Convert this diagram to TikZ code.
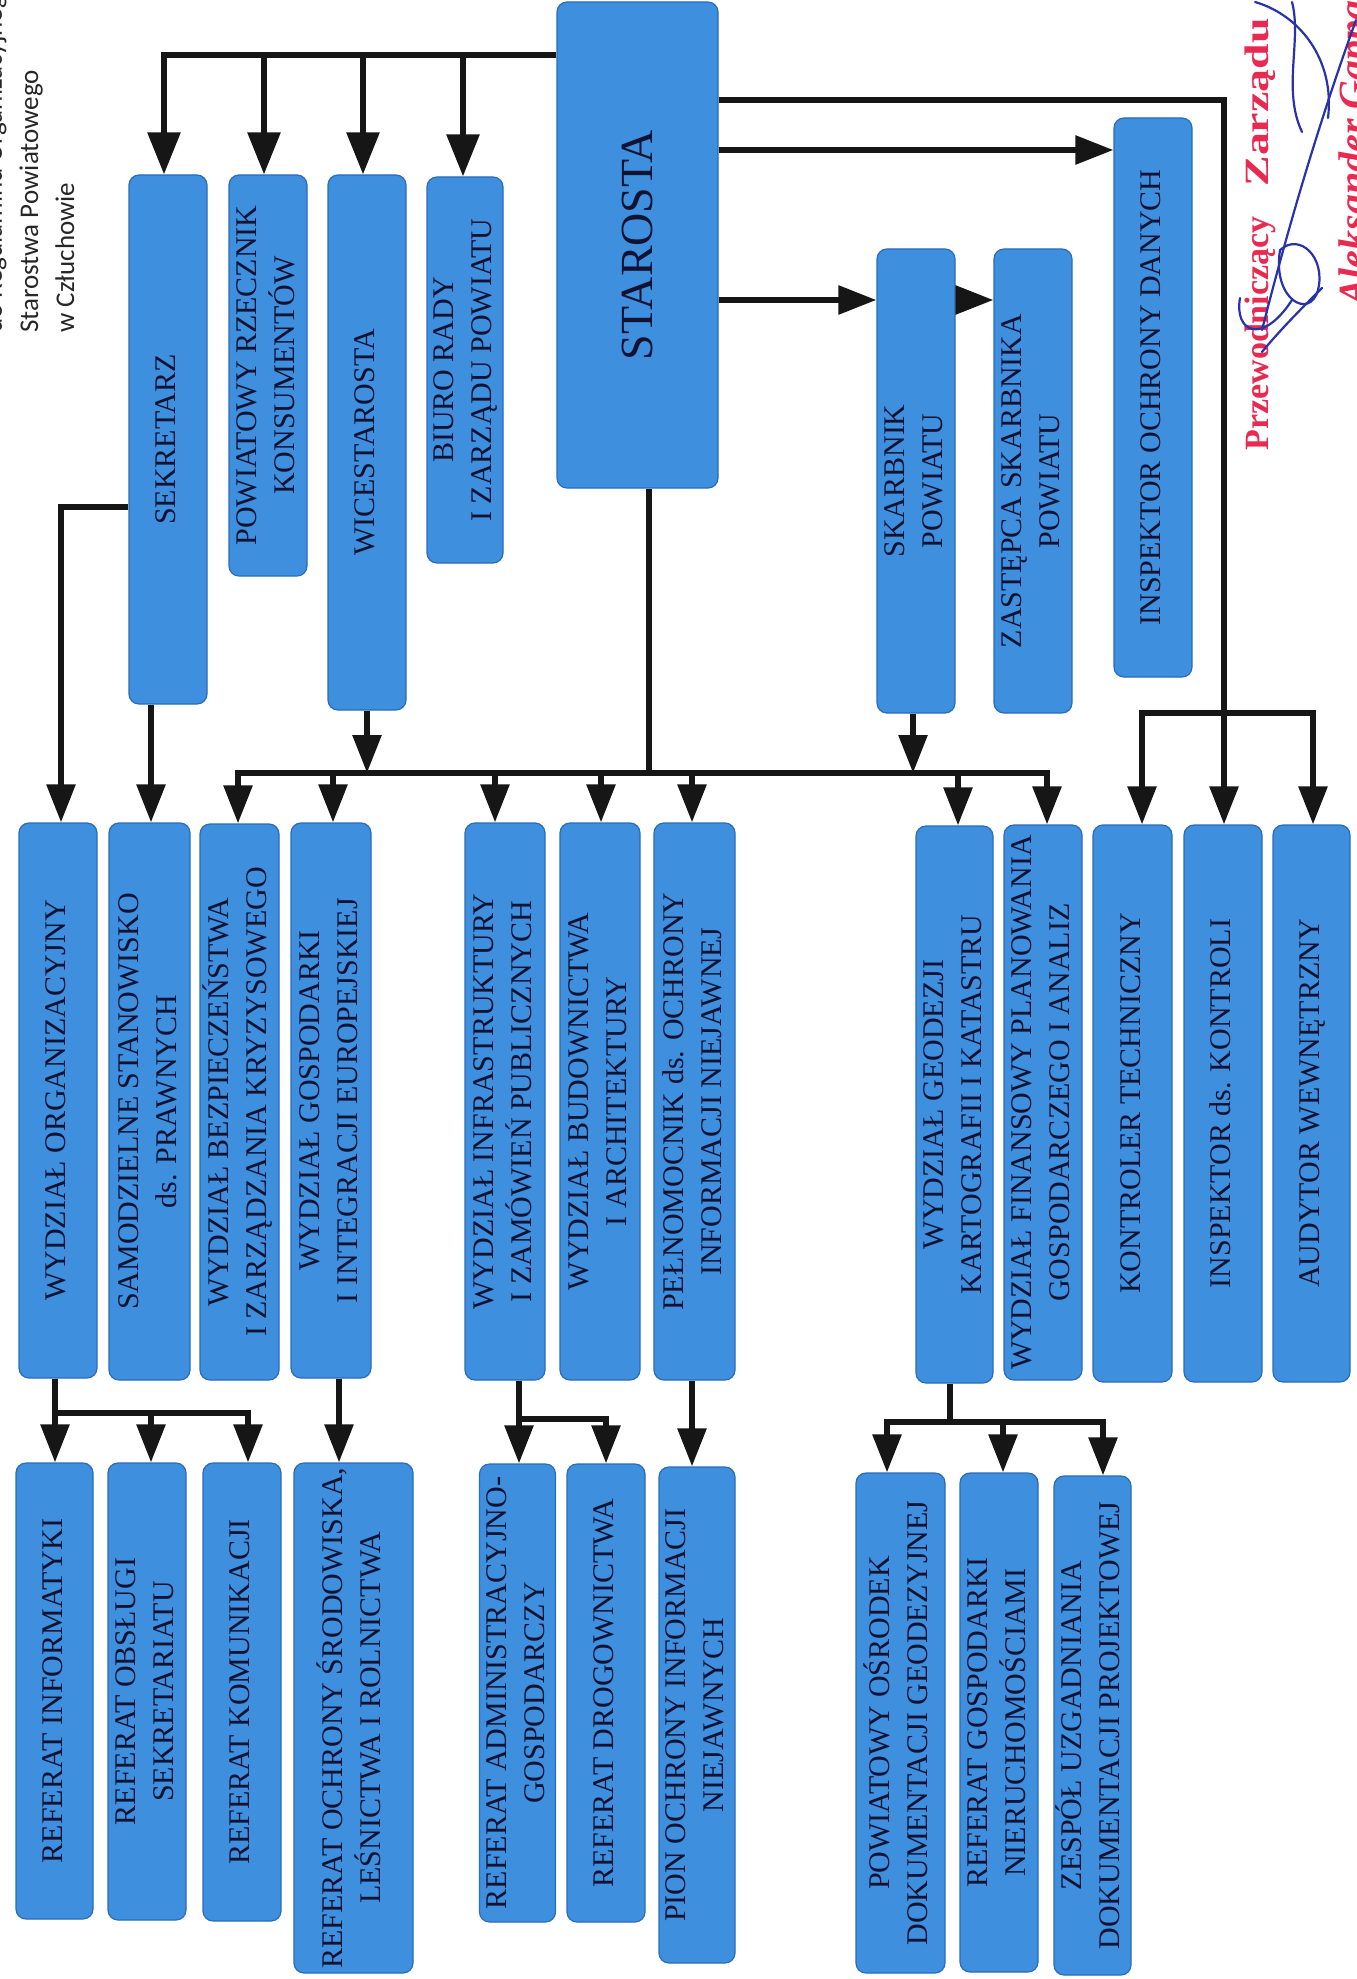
\documentclass[tikz,border=0pt]{standalone}
\usepackage{fontspec}
\setmainfont{Liberation Serif}
\newfontfamily\hdrfont{Carlito}
\usetikzlibrary{arrows.meta}
\definecolor{boxfill}{RGB}{62,143,222}
\definecolor{boxline}{RGB}{42,108,186}
\definecolor{boxtext}{RGB}{18,18,50}
\definecolor{stampred}{RGB}{232,42,80}
\definecolor{sigblue}{RGB}{40,50,170}
\definecolor{conblack}{RGB}{22,22,22}
\tikzset{
  tri/.tip={Triangle[length=19pt,width=14pt]},
  bigtri/.tip={Triangle[length=21pt,width=16pt]},
  ob/.style={draw=boxline, fill=boxfill, rounded corners=5pt, line width=0.6pt,
    inner sep=0pt, text=boxtext, font=\fontsize{15}{19}\selectfont},
  con/.style={draw=conblack, line width=2.9pt},
  arr/.style={con, -tri},
  arrbig/.style={con, -bigtri},
  arrtwo/.style={con, tri-tri},
  hdr/.style={inner sep=0pt, font=\hdrfont\fontsize{13.5}{16}\selectfont, text=black!85},
  stamp/.style={inner sep=0pt, text=stampred, font=\bfseries\fontsize{17}{20}\selectfont},
  sig/.style={draw=sigblue, line width=1.1pt, line cap=round}
}
\newcommand\obox[6]{%
  \node[ob, minimum width={(#3-#2)*0.5pt}, minimum height={(#5-#4)*0.5pt}]
    (#1) at ({(#2+#3)/2},{(#4+#5)/2})
    {\rotatebox{90}{\begin{tabular}{@{}c@{}}#6\end{tabular}}};}
\begin{document}
\begin{tikzpicture}[x=0.5pt,y=-0.5pt]
\useasboundingbox (0,0) rectangle (1356,1979);

% header
\node[hdr, rotate=90, anchor=base west] (h1) at (2,333) {do Regulaminu Organizacyjnego};
\node[hdr, rotate=90, anchor=base west] (h2) at (38,333) {Starostwa Powiatowego};
\node[hdr, rotate=90, anchor=base west] (h3) at (74,333) {w Człuchowie};

% top row
\obox{sek}{129}{207}{175}{704}{SEKRETARZ}
\obox{rzecz}{229}{307}{175}{576}{POWIATOWY RZECZNIK\\KONSUMENTÓW}
\obox{wice}{328}{406}{175}{710}{WICESTAROSTA}
\obox{biuro}{428}{502}{177}{563}{BIURO RADY\\I ZARZĄDU POWIATU}
\node[ob, font=\fontsize{23}{27}\selectfont, minimum width={161*0.5pt}, minimum height={486*0.5pt}]
  (starosta) at (637.5,245) {\rotatebox{90}{STAROSTA}};
\obox{skarb}{877}{955}{249}{713}{SKARBNIK\\POWIATU}
\obox{zast}{994}{1072}{249}{713}{ZASTĘPCA SKARBNIKA\\POWIATU}
\obox{iod}{1114}{1192}{118}{677}{INSPEKTOR OCHRONY DANYCH}

% middle row
\obox{wo}{19}{97}{823}{1378}{WYDZIAŁ ORGANIZACYJNY}
\obox{samodz}{109}{190}{823}{1380}{SAMODZIELNE STANOWISKO\\ds. PRAWNYCH}
\obox{bezp}{200}{279}{824}{1380}{WYDZIAŁ BEZPIECZEŃSTWA\\I ZARZĄDZANIA KRYZYSOWEGO}
\obox{gosp}{291}{371}{823}{1378}{WYDZIAŁ GOSPODARKI\\I INTEGRACJI EUROPEJSKIEJ}
\obox{infra}{465}{545}{823}{1380}{WYDZIAŁ INFRASTRUKTURY\\I ZAMÓWIEŃ PUBLICZNYCH}
\obox{bud}{560}{640}{823}{1380}{WYDZIAŁ BUDOWNICTWA\\I ARCHITEKTURY}
\obox{peln}{654}{735}{823}{1380}{PEŁNOMOCNIK ds. OCHRONY\\INFORMACJI NIEJAWNEJ}
\obox{geod}{916}{993}{826}{1383}{WYDZIAŁ GEODEZJI\\KARTOGRAFII I KATASTRU}
\obox{fin}{1004}{1082}{825}{1380}{WYDZIAŁ FINANSOWY PLANOWANIA\\GOSPODARCZEGO I ANALIZ}
\obox{kontr}{1093}{1172}{825}{1382}{KONTROLER TECHNICZNY}
\obox{inspk}{1184}{1262}{825}{1382}{INSPEKTOR ds. KONTROLI}
\obox{aud}{1273}{1350}{825}{1382}{AUDYTOR WEWNĘTRZNY}

% bottom row
\obox{rinf}{16}{93}{1463}{1919}{REFERAT INFORMATYKI}
\obox{robs}{108}{186}{1463}{1920}{REFERAT OBSŁUGI\\SEKRETARIATU}
\obox{rkom}{203}{281}{1463}{1921}{REFERAT KOMUNIKACJI}
\obox{roch}{294}{413}{1463}{1973}{REFERAT OCHRONY ŚRODOWISKA,\\LEŚNICTWA I ROLNICTWA}
\obox{radm}{480}{555}{1464}{1922}{REFERAT ADMINISTRACYJNO-\\GOSPODARCZY}
\obox{rdrog}{567}{645}{1464}{1922}{REFERAT DROGOWNICTWA}
\obox{pion}{659}{735}{1467}{1963}{PION OCHRONY INFORMACJI\\NIEJAWNYCH}
\obox{pods}{856}{945}{1473}{1973}{POWIATOWY OŚRODEK\\DOKUMENTACJI GEODEZYJNEJ}
\obox{rgn}{960}{1038}{1473}{1972}{REFERAT GOSPODARKI\\NIERUCHOMOŚCIAMI}
\obox{zesp}{1054}{1131}{1476}{1975}{ZESPÓŁ UZGADNIANIA\\DOKUMENTACJI PROJEKTOWEJ}

% connectors: top
\coordinate (tb1) at (164,55);
\coordinate (tb2) at (264,55);
\coordinate (tb3) at (363,55);
\coordinate (tb4) at (463,55);
\draw[arrbig] (starosta.west |- tb1) -- (tb1) -- (sek.north -| tb1);
\draw[arrbig] (tb2) -- (rzecz.north -| tb2);
\draw[arrbig] (tb3) -- (wice.north -| tb3);
\draw[arrbig] (tb4) -- (biuro.north -| tb4);

% right side
\coordinate (rc1) at (1224,100);
\coordinate (cbl) at (1142,713);
\coordinate (cbr) at (1313,713);
\draw[arr] (starosta.east |- rc1) -- (rc1) -- (inspk.north -| rc1);
\draw[arrtwo] (kontr.north -| cbl) -- (cbl) -- (cbr) -- (aud.north -| cbr);
\coordinate (yi) at (0,150);
\draw[arr] (starosta.east |- yi) -- (iod.west |- yi);
\coordinate (ys) at (0,300);
\draw[arr] (starosta.east |- ys) -- (skarb.west |- ys);
\draw[arr] (skarb.east |- ys) -- (zast.west |- ys);

% main bus
\coordinate (mbl) at (238,773);
\coordinate (mbr) at (1047,773);
\draw[arrtwo] (bezp.north -| mbl) -- (mbl) -- (mbr) -- (fin.north -| mbr);
\coordinate (m2) at (333,773);
\coordinate (m3) at (495,773);
\coordinate (m4) at (601,773);
\coordinate (m5) at (692,773);
\coordinate (m6) at (958,773);
\draw[arr] (m2) -- (gosp.north -| m2);
\draw[arr] (m3) -- (infra.north -| m3);
\draw[arr] (m4) -- (bud.north -| m4);
\draw[arr] (m5) -- (peln.north -| m5);
\draw[arr] (m6) -- (geod.north -| m6);
\coordinate (sx) at (649,773);
\draw[con] (starosta.south -| sx) -- (sx);
\coordinate (wx) at (367,773);
\draw[arr] (wice.south -| wx) -- (wx);
\coordinate (kx) at (913,773);
\draw[arr] (skarb.south -| kx) -- (kx);

% sekretarz
\coordinate (sl) at (61,507);
\draw[arr] (sek.west |- sl) -- (sl) -- (wo.north -| sl);
\coordinate (sb) at (151,0);
\draw[arr] (sek.south -| sb) -- (samodz.north -| sb);

% sub groups
\coordinate (w1) at (55,1413);
\coordinate (w2) at (151,1413);
\coordinate (w3) at (248,1413);
\draw[arr] (wo.south -| w1) -- (rinf.north -| w1);
\draw[arr] (w1) -- (w3) -- (rkom.north -| w3);
\draw[arr] (w2) -- (robs.north -| w2);
\coordinate (g1) at (339,0);
\draw[arr] (gosp.south -| g1) -- (roch.north -| g1);
\coordinate (i1) at (519,1419);
\coordinate (i2) at (606,1419);
\draw[arr] (infra.south -| i1) -- (radm.north -| i1);
\draw[arr] (i1) -- (i2) -- (rdrog.north -| i2);
\coordinate (p1) at (692,0);
\draw[arr] (peln.south -| p1) -- (pion.north -| p1);
\coordinate (e0) at (950,1422);
\coordinate (e1) at (887,1422);
\coordinate (e2) at (1003,1422);
\coordinate (e3) at (1103,1422);
\draw[con] (geod.south -| e0) -- (e0);
\draw[arrtwo] (pods.north -| e1) -- (e1) -- (e3) -- (zesp.north -| e3);
\draw[arr] (e2) -- (rgn.north -| e2);

% stamp and signature
\node[stamp, rotate=90, anchor=base west] (st1) at (1268,451) {Przewodniczący};
\node[stamp, rotate=90, anchor=base west] (st2) at (1268,187) {\scalebox{1.35}[1]{Zarządu}};
\node[stamp, rotate=90, anchor=base east, font=\bfseries\itshape\fontsize{20}{23}\selectfont] (st3) at (1366,0) {Aleksander Gappa};
\draw[sig] (1255,2) .. controls (1300,15) and (1335,60) .. (1328,118);
\draw[sig] (1356,20) .. controls (1320,120) and (1290,220) .. (1262,330);
\draw[sig] (1280,250) .. controls (1300,232) and (1326,258) .. (1318,290)
  .. controls (1310,320) and (1272,300) .. (1280,250);
\draw[sig] (1322,288) .. controls (1300,310) and (1280,330) .. (1262,352);
\draw[sig] (1240,298) .. controls (1234,332) and (1262,346) .. (1292,300);
\draw[sig] (1292,2) .. controls (1302,40) and (1282,90) .. (1302,132);
\end{tikzpicture}
\end{document}
